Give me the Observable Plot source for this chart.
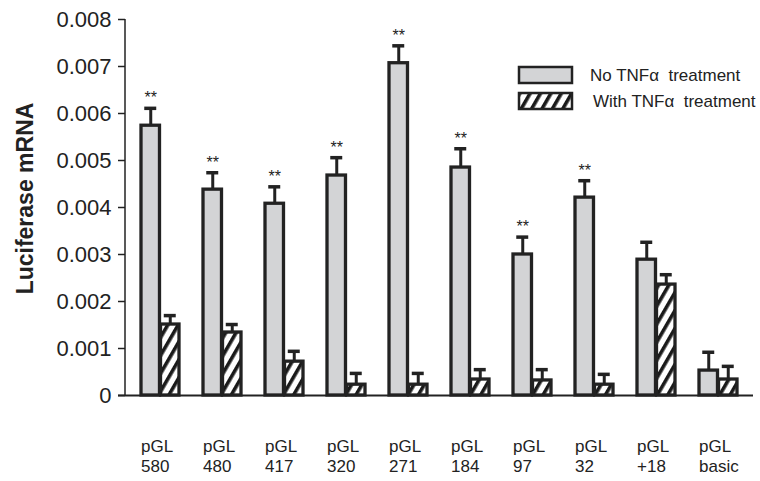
<!DOCTYPE html>
<html>
<head>
<meta charset="utf-8">
<script src="https://cdn.jsdelivr.net/npm/d3@7"></script>
<script src="https://cdn.jsdelivr.net/npm/@observablehq/plot@0.6"></script>
<style>
  html, body { margin: 0; padding: 0; background: #fff; }
  #chart { width: 760px; height: 481px; }
  svg { font-family: "Liberation Sans", Arial, sans-serif; }
</style>
</head>
<body>
<div id="chart"></div>
<script>
const categories = ["580", "480", "417", "320", "271", "184", "97", "32", "+18", "basic"];
const noTNF      = [0.00574, 0.00438, 0.00408, 0.00468, 0.00707, 0.00485, 0.00300, 0.00421, 0.00289, 0.00053];
const noTNFErr   = [0.00037, 0.00036, 0.00036, 0.00038, 0.00037, 0.00040, 0.00037, 0.00036, 0.00037, 0.00039];
const withTNF    = [0.00151, 0.00134, 0.00072, 0.00023, 0.00023, 0.00034, 0.00032, 0.00023, 0.00236, 0.00034];
const withTNFErr = [0.00019, 0.00017, 0.00022, 0.00024, 0.00024, 0.00021, 0.00023, 0.00022, 0.00021, 0.00028];
const significant = [true, true, true, true, true, true, true, true, false, false];
const yTicks = [0, 0.001, 0.002, 0.003, 0.004, 0.005, 0.006, 0.007, 0.008];
const seriesNames = ["No TNF\u03b1  treatment", "With TNF\u03b1  treatment"];
const yLabel = "Luciferase mRNA";

const rows = categories.map((c, i) => ({
  cat: c, label: "pGL\n" + c,
  a: noTNF[i], aTop: noTNF[i] + noTNFErr[i],
  b: withTNF[i], bTop: withTNF[i] + withTNFErr[i],
  sig: significant[i]
}));

const W = 760, H = 481, mL = 125, mR = 7, mT = 19, mB = 86;
const pInner = 0.38, pOuter = 0.18;
const bw = d3.scaleBand().domain(categories).range([mL, W - mR]).paddingInner(pInner).paddingOuter(pOuter).bandwidth();
const half = bw / 2;
const capHalf = 6.5;

const plot = Plot.plot({
  width: W, height: H,
  marginLeft: mL, marginRight: mR, marginTop: mT, marginBottom: mB,
  style: { fontFamily: '"Liberation Sans", Arial, sans-serif', background: "#fff" },
  x: { domain: categories, paddingInner: pInner, paddingOuter: pOuter, axis: null },
  y: { domain: [0, 0.008], axis: null },
  marks: [
    Plot.axisY({
      ticks: yTicks, tickSize: 7, tickPadding: 7, fontSize: 22, strokeWidth: 1.5,
      tickFormat: d => d === 0 ? "0" : d.toFixed(3), label: null, color: "#222"
    }),
    // error bars (drawn first; bars cover their bottoms)
    Plot.ruleX(rows, { x: "cat", y1: "a", y2: "aTop", dx: -half / 2, stroke: "#222", strokeWidth: 3 }),
    Plot.tickY(rows, { x: "cat", y: "aTop", insetLeft: half / 2 - capHalf, insetRight: bw - half / 2 - capHalf, stroke: "#222", strokeWidth: 3.5 }),
    Plot.ruleX(rows, { x: "cat", y1: "b", y2: "bTop", dx: half / 2, stroke: "#222", strokeWidth: 3 }),
    Plot.tickY(rows, { x: "cat", y: "bTop", insetLeft: bw - half / 2 - capHalf, insetRight: half / 2 - capHalf, stroke: "#222", strokeWidth: 3.5 }),
    Plot.barY(rows, { x: "cat", y: "a", insetRight: half, fill: "#d3d4d6", stroke: "#222", strokeWidth: 3.3 }),
    Plot.barY(rows, { x: "cat", y: "b", insetLeft: half, fill: "url(#hatch)", stroke: "#222", strokeWidth: 3.3 }),
    Plot.text(rows.filter(d => d.sig), { x: "cat", y: "aTop", text: () => "**", dx: -half / 2, dy: -10, fontSize: 16, fill: "#222" }),
    Plot.ruleY([0], { stroke: "#222", strokeWidth: 2, insetLeft: -7 }),
    Plot.text(rows, { x: "cat", y: () => 0, text: "label", dx: -half, dy: 42, textAnchor: "start", lineAnchor: "top", lineHeight: 1.2, fontSize: 17, fill: "#222" }),
    Plot.text([yLabel], { frameAnchor: "left", textAnchor: "middle", rotate: -90, dx: -100, dy: -9, fontSize: 23, fontWeight: "bold", fill: "#222" })
  ]
});

// hatch pattern
const svg = d3.select(plot);
const defs = svg.insert("defs", ":first-child");
const pat = defs.append("pattern").attr("id", "hatch").attr("patternUnits", "userSpaceOnUse")
  .attr("width", 9).attr("height", 9).attr("patternTransform", "rotate(30)");
pat.append("rect").attr("width", 9).attr("height", 9).attr("fill", "#fff");
pat.append("rect").attr("width", 3.6).attr("height", 9).attr("fill", "#1a1a1a");

// y axis line
svg.append("line").attr("x1", mL).attr("x2", mL).attr("y1", mT).attr("y2", H - mB)
  .attr("stroke", "#222").attr("stroke-width", 1.5);

// legend
const lg = svg.append("g").attr("text-anchor", "start");
const sw = [{ y: 67, fill: "#d3d4d6" }, { y: 93, fill: "url(#hatch)" }];
sw.forEach((s, i) => {
  lg.append("rect").attr("x", 519).attr("y", s.y).attr("width", 53).attr("height", 16)
    .attr("fill", s.fill).attr("stroke", "#222").attr("stroke-width", 2.5);
  lg.append("text").attr("x", i === 0 ? 590 : 593).attr("y", s.y + 14)
    .attr("text-anchor", "start").attr("font-size", 17).attr("fill", "#222")
    .style("white-space", "pre").text(seriesNames[i]);
});

document.getElementById("chart").appendChild(plot);
</script>
</body>
</html>
